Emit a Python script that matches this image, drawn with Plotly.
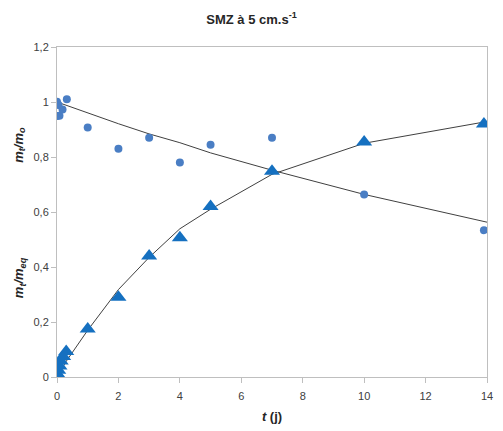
import plotly.graph_objects as go

# m_t/m_o measurements (circles)
t_o = [0, 0.05, 0, 0.08, 0.18, 0.32, 1, 2, 3, 4, 5, 7, 10, 13.9]
mo_vals = [1.001, 0.989, 0.949, 0.950, 0.973, 1.010, 0.907, 0.830, 0.870, 0.780, 0.845, 0.870, 0.664, 0.534]

# m_t/m_o fitted curve
t_o_fit = [0, 0.05, 0.08, 0.18, 0.32, 1, 2, 3, 4, 5, 7, 10, 14]
mo_fit = [1.0, 0.998, 0.997, 0.993, 0.987, 0.960, 0.921, 0.884, 0.852, 0.815, 0.752, 0.664, 0.563]

# m_t/m_eq measurements (triangles)
t_eq = [0, 0.02, 0.04, 0.08, 0.12, 0.2, 0.3, 1, 2, 3, 4, 5, 7, 10, 13.9]
meq_vals = [0.0, 0.01, 0.025, 0.04, 0.058, 0.075, 0.093, 0.175, 0.290, 0.440, 0.506, 0.620, 0.748, 0.855, 0.920]

# m_t/m_eq fitted curve
t_eq_fit = [0, 0.02, 0.04, 0.08, 0.12, 0.2, 0.3, 1, 2, 3, 4, 5, 7, 10, 14]
meq_fit = [0.0, 0.004, 0.008, 0.016, 0.024, 0.039, 0.057, 0.170, 0.318, 0.435, 0.539, 0.610, 0.737, 0.850, 0.929]

x_ticks = [0, 2, 4, 6, 8, 10, 12, 14]
y_ticks = [0, 0.2, 0.4, 0.6, 0.8, 1.0, 1.2]

fig = go.Figure()
fig.add_trace(go.Scatter(x=t_o_fit, y=mo_fit, mode="lines",
                         line=dict(color="#404040", width=1), showlegend=False, hoverinfo="skip"))
fig.add_trace(go.Scatter(x=t_eq_fit, y=meq_fit, mode="lines",
                         line=dict(color="#404040", width=1), showlegend=False, hoverinfo="skip"))
fig.add_trace(go.Scatter(x=t_o, y=mo_vals, mode="markers",
                         marker=dict(symbol="circle", size=8, color="#4A7EC4"), showlegend=False))
fig.add_trace(go.Scatter(x=t_eq, y=meq_vals, mode="markers",
                         marker=dict(symbol="triangle-up", size=14, color="#1570C0"), showlegend=False))

axis_common = dict(showgrid=False, zeroline=False, showline=True, linecolor="#BFBFBF", linewidth=1,
                   mirror=True, ticks="outside", ticklen=5, tickcolor="#BFBFBF",
                   tickfont=dict(family="Liberation Sans, Arial, sans-serif", size=11, color="#404040"))

fig.update_xaxes(range=[0, 14], tickvals=x_ticks, ticklabelstandoff=4, **axis_common,
                 title=dict(text="<b><i>t</i> (j)</b>", font=dict(family="Liberation Sans, Arial", size=13, color="#262626"),
                            standoff=10))
fig.update_yaxes(range=[0, 1.2], tickvals=y_ticks, **axis_common)

fig.add_annotation(text="<b><i>m<sub>t</sub>/m<sub>o</sub></i></b>", xref="paper", yref="y",
                   x=-0.088, xanchor="center", y=0.845, yanchor="middle", textangle=-90, showarrow=False,
                   font=dict(family="Liberation Sans, Arial", size=13, color="#262626"))
fig.add_annotation(text="<b><i>m<sub>t</sub>/m<sub>eq</sub></i></b>", xref="paper", yref="y",
                   x=-0.088, xanchor="center", y=0.36, yanchor="middle", textangle=-90, showarrow=False,
                   font=dict(family="Liberation Sans, Arial", size=13, color="#262626"))

fig.update_layout(
    width=503, height=431,
    margin=dict(l=57, r=10, t=47, b=53),
    paper_bgcolor="white", plot_bgcolor="white",
    separators=", ",
    title=dict(text="<b>SMZ à 5 cm.s<sup>-1</sup></b>", x=0.5, xanchor="center", y=0.955, yanchor="middle",
               font=dict(family="Liberation Sans, Arial", size=13, color="#262626")),
)

fig.write_html("out.html", config={"displayModeBar": False},
               post_script="document.body.style.margin='0px';")
